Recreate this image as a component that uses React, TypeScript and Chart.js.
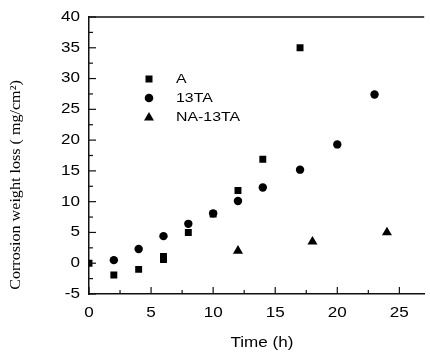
import { useEffect, useRef } from "react";
import { Chart, registerables } from "chart.js";

Chart.register(...registerables);

const seriesNames = ["A", "13TA", "NA-13TA"];
const aTime = [0, 2, 4, 6, 6, 8, 10, 12, 14, 17];
const aLoss = [0, -1.9, -1.0, 0.6, 1.1, 5.0, 8.0, 11.8, 16.9, 35.0];
const tTime = [2, 4, 6, 8, 10, 12, 14, 17, 20, 23];
const tLoss = [0.5, 2.3, 4.4, 6.4, 8.1, 10.1, 12.3, 15.2, 19.3, 27.4];
const nTime = [12, 18, 24];
const nLoss = [2.0, 3.5, 5.0];
const xTicks = [0, 5, 10, 15, 20, 25];
const yTicks = [-5, 0, 5, 10, 15, 20, 25, 30, 35, 40];

const toPts = (xs: number[], ys: number[]) => xs.map((x, i) => ({ x, y: ys[i] }));

const styles = ["rect", "circle", "triangle"];
const radii = [4.9, 4.2, 5.8];
const SANS = "'Liberation Sans', Arial, sans-serif";
const STRETCH = 1.22;

function stretchedText(ctx: any, text: string, x: number, y: number, align: string, sx: number) {
  ctx.save();
  ctx.translate(x, y);
  ctx.scale(sx, 1);
  ctx.textAlign = align;
  ctx.fillText(text, 0, 0);
  ctx.restore();
}

function marker(ctx: any, style: string, x: number, y: number) {
  ctx.beginPath();
  if (style === "rect") {
    ctx.rect(x - 3.5, y - 3.5, 7, 7);
  } else if (style === "circle") {
    ctx.arc(x, y, 4.3, 0, Math.PI * 2);
  } else {
    ctx.moveTo(x, y - 5);
    ctx.lineTo(x + 5, y + 3.5);
    ctx.lineTo(x - 5, y + 3.5);
    ctx.closePath();
  }
  ctx.fill();
}

const decor = {
  id: "decor",
  afterDraw(chart: any) {
    const ctx = chart.ctx;
    const { left, right, top, bottom } = chart.chartArea;
    const xs = chart.scales.x;
    const ys = chart.scales.y;
    ctx.save();
    ctx.strokeStyle = "#111";
    ctx.lineWidth = 1.5;
    ctx.beginPath();
    ctx.moveTo(left, top);
    ctx.lineTo(right, top);
    ctx.stroke();
    ctx.lineWidth = 1.2;
    for (let v = 0; v <= 27; v += 2.5) {
      const px = xs.getPixelForValue(v);
      const major = Math.abs(v % 5) < 1e-9;
      ctx.beginPath();
      ctx.moveTo(px, bottom);
      ctx.lineTo(px, bottom - (major ? 7 : 4));
      ctx.stroke();
    }
    for (let v = -5; v <= 40; v += 2.5) {
      const py = ys.getPixelForValue(v);
      const major = Math.abs(v % 5) < 1e-9;
      ctx.beginPath();
      ctx.moveTo(left, py);
      ctx.lineTo(left + (major ? 7 : 4), py);
      ctx.stroke();
    }
    ctx.fillStyle = "#000";
    ctx.textBaseline = "middle";
    ctx.font = `14px ${SANS}`;
    xTicks.forEach((v) => {
      stretchedText(ctx, String(v), xs.getPixelForValue(v), bottom + 19, "center", STRETCH);
    });
    yTicks.forEach((v) => {
      stretchedText(ctx, String(v), left - 9, ys.getPixelForValue(v), "right", STRETCH);
    });
    stretchedText(ctx, "Time (h)", 262, 343, "center", STRETCH);
    ctx.font = `13px ${SANS}`;
    seriesNames.forEach((name, i) => {
      const y = 79 + i * 19;
      marker(ctx, styles[i], 149, y);
      stretchedText(ctx, name, 176, y, "left", STRETCH);
    });
    ctx.translate(16, 185);
    ctx.rotate(-Math.PI / 2);
    ctx.font = "14px 'Liberation Serif', 'Times New Roman', serif";
    stretchedText(ctx, "Corrosion weight loss ( mg/cm\u00B2)", 0, 0, "center", 1.15);
    ctx.restore();
  },
};

export default function App() {
  const ref = useRef<HTMLCanvasElement | null>(null);
  useEffect(() => {
    if (!ref.current) return;
    const mk = (label: string, data: any[], i: number) => ({
      label,
      data,
      pointStyle: styles[i],
      pointRadius: radii[i],
      backgroundColor: "#000",
      borderColor: "#000",
      borderWidth: 0,
      showLine: false,
    });
    const chart = new Chart(ref.current, {
      type: "scatter",
      data: {
        datasets: [
          mk(seriesNames[0], toPts(aTime, aLoss), 0),
          mk(seriesNames[1], toPts(tTime, tLoss), 1),
          mk(seriesNames[2], toPts(nTime, nLoss), 2),
        ],
      },
      options: {
        animation: false,
        responsive: false,
        layout: { padding: { top: 17, right: 0, left: 0, bottom: 0 } },
        plugins: { legend: { display: false }, tooltip: { enabled: false } },
        scales: {
          x: {
            type: "linear",
            min: 0,
            max: 27,
            afterBuildTicks: (s: any) => {
              s.ticks = xTicks.map((v) => ({ value: v }));
            },
            afterFit: (s: any) => {
              s.height = 59;
            },
            grid: { display: false },
            border: { display: true, color: "#111", width: 1.5 },
            ticks: { display: false },
          },
          y: {
            type: "linear",
            min: -5,
            max: 40,
            afterBuildTicks: (s: any) => {
              s.ticks = yTicks.map((v) => ({ value: v }));
            },
            afterFit: (s: any) => {
              s.width = 89;
            },
            grid: { display: false },
            border: { display: true, color: "#111", width: 1.5 },
            ticks: { display: false },
          },
        },
      },
      plugins: [decor],
    });
    return () => chart.destroy();
  }, []);
  return (
    <div style={{ position: "absolute", left: 0, top: 0, width: 430, height: 353, background: "#fff" }}>
      <canvas ref={ref} width={430} height={353} />
    </div>
  );
}
